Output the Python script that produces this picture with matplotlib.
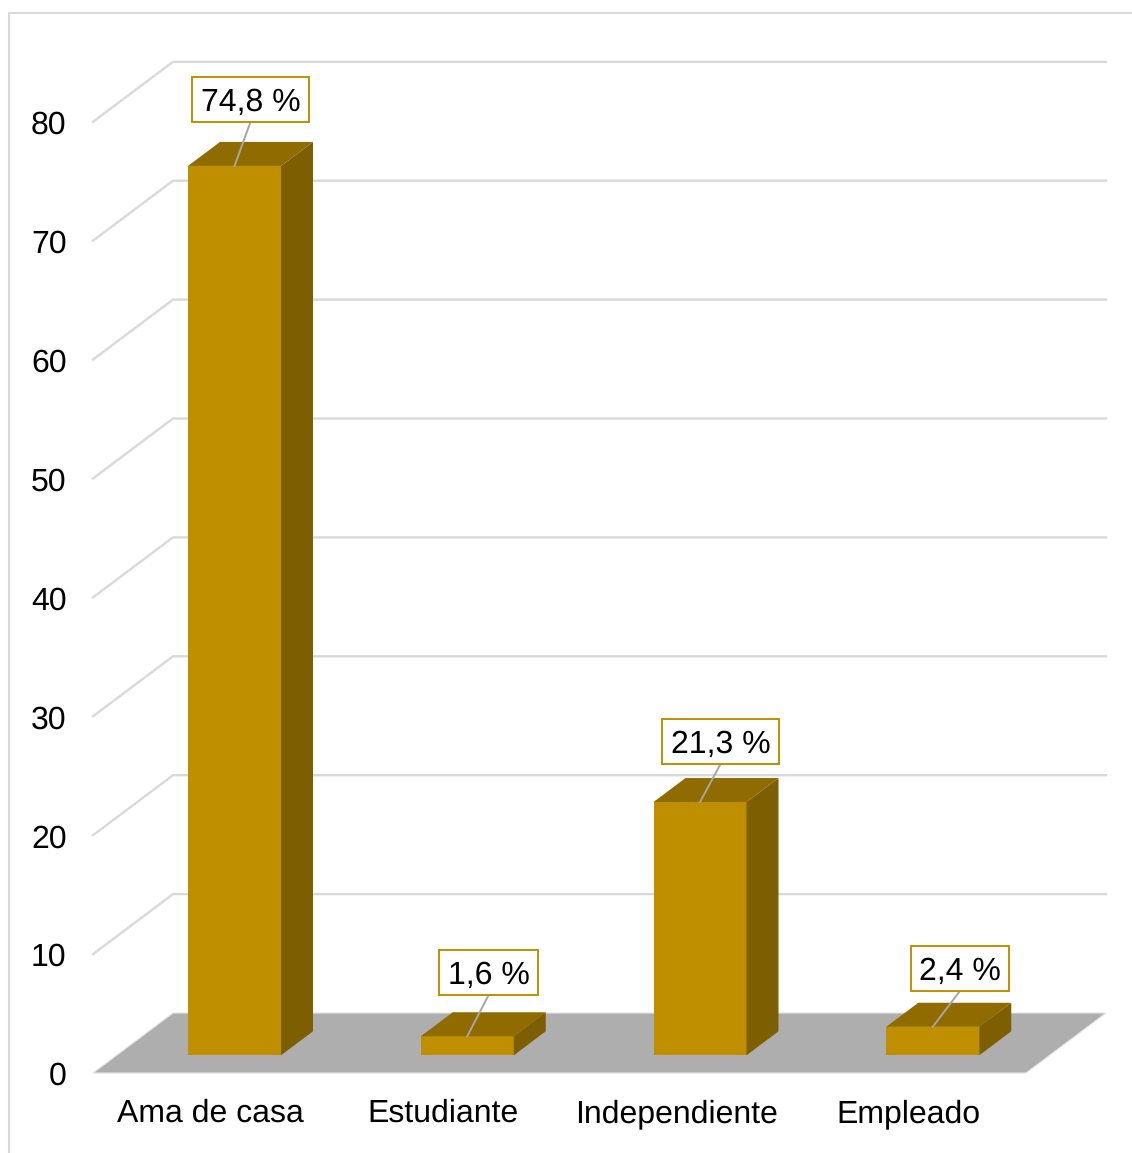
import matplotlib
matplotlib.use("Agg")
import matplotlib.pyplot as plt
from matplotlib.patches import Polygon, Rectangle

plt.rcParams['font.family'] = ['Liberation Sans', 'DejaVu Sans']
plt.rcParams['text.hinting'] = 'no_hinting'
plt.rcParams['text.hinting_factor'] = 1

categories = ["Ama de casa", "Estudiante", "Independiente", "Empleado"]
values = [74.8, 1.6, 21.3, 2.4]
value_labels = ["74,8 %", "1,6 %", "21,3 %", "2,4 %"]
y_ticks = [0, 10, 20, 30, 40, 50, 60, 70, 80]

W, H = 1132, 1153
X0_PX, X_STEP = 211.0, 232.75   # pixel position of category 0, pixels per category
Y0_PX, Y_STEP = 1073.0, 11.89   # pixel position of value 0, pixels per unit
FONT_SIZE = 23


def dx(px):
    return px / X_STEP


def dy(px):
    return px / Y_STEP


fig = plt.figure(figsize=(W / 100, H / 100), dpi=100)
ax = fig.add_axes([0, 0, 1, 1])
ax.set_xlim(-X0_PX / X_STEP, (W - X0_PX) / X_STEP)
ax.set_ylim((Y0_PX - H) / Y_STEP, Y0_PX / Y_STEP)
ax.axis("off")

# outer chart frame
fx0 = dx(8.5) - X0_PX / X_STEP
fy1 = (Y0_PX - 13) / Y_STEP
ax.plot([fx0, fx0, (W - X0_PX) / X_STEP], [(Y0_PX - H) / Y_STEP, fy1, fy1],
        color="#D9D9D9", lw=1.5, zorder=1, solid_joinstyle="miter")

# floor and wall geometry of the pseudo-3D box
left = -dx(118)
right = dx(815)
wall_x = dx(80)
wall_y = dy(60)
far_right = dx(895)

for t in y_ticks[1:]:
    ax.plot([left, left + wall_x, far_right], [t, t + wall_y, t + wall_y],
            color="#D9D9D9", lw=1.7, zorder=1, solid_joinstyle="miter")

ax.add_patch(Polygon([(left, 0), (right, 0), (right + wall_x, wall_y),
                      (left + wall_x, wall_y)],
                     closed=True, fc="#AEAEAE", ec="#E4E4E4", lw=0.8, zorder=2))

for t in y_ticks:
    ax.text(-dx(144.5), t - dy(12), str(t), ha="right", va="baseline",
            fontsize=FONT_SIZE, color="#000000", zorder=6)

for i, c in enumerate(categories):
    ax.text(i - dx(0.5), -dy(49), c, ha="center", va="baseline",
            fontsize=FONT_SIZE, color="#000000", zorder=6)

# bars: front, top and side faces
bar_shift_x = dx(23.5)
bar_base = dy(17.7)
half_w = dx(46.5)
depth_x = dx(32)
depth_y = dy(24)
label_shift_x = [16, 21.5, 20.5, 27]
label_gap = [44, 41.5, 38, 35.5]
label_w = [117, 99, 117, 98]
label_h = 45

for i, v in enumerate(values):
    xc = i + bar_shift_x
    x0, x1 = xc - half_w, xc + half_w
    b = bar_base
    t = v + bar_base
    ax.add_patch(Rectangle((x0, b), x1 - x0, t - b, fc="#BF8F00", ec="none", zorder=3))
    ax.add_patch(Polygon([(x0, t), (x1, t), (x1 + depth_x, t + depth_y), (x0 + depth_x, t + depth_y)],
                         closed=True, fc="#8F6B00", ec="none", zorder=3))
    ax.add_patch(Polygon([(x1, b), (x1 + depth_x, b + depth_y), (x1 + depth_x, t + depth_y), (x1, t)],
                         closed=True, fc="#7D5E00", ec="none", zorder=3))

    # value callout with its leader line
    bx = xc + dx(label_shift_x[i])
    by = t + dy(label_gap[i])
    ax.plot([xc, bx], [t, by], color="#A6A6A6", lw=1.4, zorder=4)
    ax.add_patch(Rectangle((bx - dx(label_w[i]) / 2, by), dx(label_w[i]), dy(label_h),
                           fc="white", ec="#BF8F00", lw=1.4, zorder=5))
    ax.text(bx, by + dy(label_h) / 2 - dy(11.5), value_labels[i], ha="center", va="baseline",
            fontsize=FONT_SIZE, color="#000000", zorder=6)

fig.savefig("out.png", dpi=100, facecolor="white")
